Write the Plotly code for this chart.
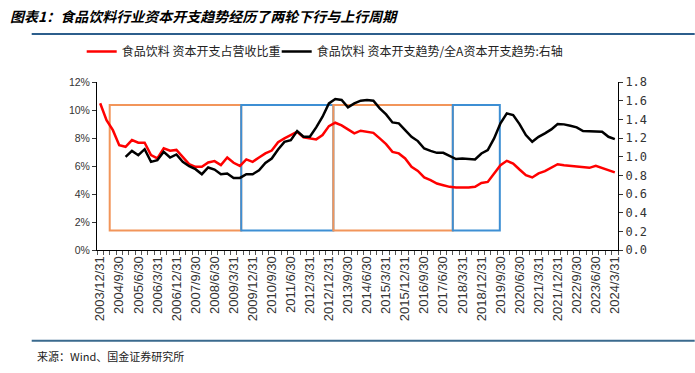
import plotly.graph_objects as go

# ---------------- data ----------------
quarters = []
y, m = 2003, 12
for _ in range(82):
    quarters.append((y, m))
    m += 3
    if m > 12:
        m -= 12
        y += 1
day = {3: 31, 6: 30, 9: 30, 12: 31}
date_labels = [f"{yy}/{mm}/{day[mm]}" for yy, mm in quarters]

capex_ratio = [
    10.48, 9.28, 8.56, 7.49, 7.37, 7.85, 7.66, 7.66, 6.78, 6.54,
    7.26, 7.09, 7.15, 6.61, 6.13, 5.94, 5.94, 6.25, 6.35, 6.06,
    6.61, 6.23, 6.01, 6.47, 6.30, 6.61, 6.90, 7.10, 7.70, 7.97,
    8.21, 8.45, 8.05, 7.95, 7.90, 8.21, 8.85, 9.09, 8.90, 8.62,
    8.33, 8.52, 8.45, 8.37, 7.97, 7.56, 7.01, 6.90, 6.54, 5.94,
    5.65, 5.18, 4.99, 4.75, 4.63, 4.51, 4.46, 4.46, 4.46, 4.52,
    4.79, 4.86, 5.47, 6.06, 6.37, 6.18, 5.75, 5.34, 5.18, 5.47,
    5.63, 5.90, 6.13, 6.06, 6.01, 5.99, 5.90, 5.87, 6.01, 5.87,
    5.70, 5.54,
]

capex_trend = [
    None, None, None, None, 0.998, 1.062, 1.016, 1.080, 0.944, 0.962,
    1.052, 0.991, 1.024, 0.944, 0.898, 0.866, 0.812, 0.884, 0.862, 0.812,
    0.820, 0.772, 0.772, 0.812, 0.812, 0.855, 0.933, 0.980, 1.077, 1.159,
    1.177, 1.274, 1.213, 1.213, 1.314, 1.428, 1.571, 1.618, 1.607, 1.528,
    1.571, 1.600, 1.607, 1.600, 1.518, 1.453, 1.367, 1.357, 1.285, 1.213,
    1.167, 1.088, 1.062, 1.041, 1.041, 1.005, 0.975, 0.980, 0.973, 0.970,
    1.034, 1.070, 1.195, 1.357, 1.464, 1.446, 1.349, 1.231, 1.159, 1.213,
    1.249, 1.292, 1.349, 1.346, 1.331, 1.314, 1.274, 1.274, 1.274, 1.267,
    1.213, 1.188,
]

# cycle boxes: (start index, end index, colour), y-span on the left axis (%)
cycle_bounds = [1.5, 22.2, 36.7, 55.5, 62.9]
cycle_colors = ["#F2955A", "#3D8FD4", "#F2955A", "#3D8FD4"]
box_y = [1.40, 10.36]

tick_idx = list(range(0, 82, 3))
tick_text = [date_labels[i] for i in tick_idx]
x_idx = list(range(len(date_labels)))

name_red = "食品饮料 资本开支占营收比重"
name_black = "食品饮料 资本开支趋势/全A资本开支趋势:右轴"
title_text = "图表1：食品饮料行业资本开支趋势经历了两轮下行与上行周期"
source_text = "来源：Wind、国金证券研究所"

# ---------------- figure ----------------
fig = go.Figure()
fig.add_trace(go.Scatter(x=x_idx, y=capex_ratio, name=name_red, mode="lines",
                         line=dict(color="#FF0000", width=2.5), yaxis="y",
                         legend="legend"))
fig.add_trace(go.Scatter(x=x_idx, y=capex_trend, name=name_black, mode="lines",
                         line=dict(color="#000000", width=2.5), yaxis="y2",
                         legend="legend2"))

shapes = []
for k in range(len(cycle_colors)):
    shapes.append(dict(type="rect", xref="x", yref="y",
                       x0=cycle_bounds[k], x1=cycle_bounds[k + 1],
                       y0=box_y[0], y1=box_y[1],
                       line=dict(color=cycle_colors[k], width=2),
                       fillcolor="rgba(0,0,0,0)", layer="below"))
# header / footer rules
L, R, T, B = 97.3, 618.3, 82.3, 249.6
W, H = R - L, B - T
def px(x):
    return (x - L) / W
def py(y):
    return (B - y) / H
rule_color = "#2C5E8C"
shapes.append(dict(type="line", xref="paper", yref="paper", x0=px(32), x1=px(695),
                   y0=py(34.5), y1=py(34.5), line=dict(color=rule_color, width=2)))
shapes.append(dict(type="line", xref="paper", yref="paper", x0=px(32), x1=px(695),
                   y0=py(340), y1=py(340), line=dict(color="#3A6A8E", width=2)))

annotations = [
    dict(xref="paper", yref="paper", x=px(8), y=py(17), xanchor="left", yanchor="middle",
         text="<b><i>" + title_text + "</i></b>", showarrow=False,
         font=dict(family="Noto Sans CJK SC", size=14, color="#000000")),
    dict(xref="paper", yref="paper", x=px(35), y=py(355), xanchor="left", yanchor="middle",
         text=source_text, showarrow=False,
         font=dict(family="Noto Sans CJK SC", size=11, color="#222222")),
]

legend_font = dict(family="Noto Sans CJK SC", size=12, color="#222222")
fig.update_layout(
    width=695, height=373,
    margin=dict(l=L, r=695 - R, t=T, b=373 - B, pad=0, autoexpand=False),
    paper_bgcolor="white", plot_bgcolor="white",
    shapes=shapes, annotations=annotations,
    showlegend=True,
    legend=dict(orientation="h", x=px(82), y=py(52), xanchor="left", yanchor="middle",
                font=legend_font, bgcolor="rgba(0,0,0,0)", itemwidth=30),
    legend2=dict(orientation="h", x=px(277), y=py(52), xanchor="left", yanchor="middle",
                 font=legend_font, bgcolor="rgba(0,0,0,0)", itemwidth=30),
    xaxis=dict(range=[-0.5, 81.5], tickmode="array", tickvals=tick_idx, ticktext=tick_text,
               tickangle=-90, ticks="", showgrid=False, zeroline=False, automargin=False,
               showline=True, linecolor="#000000", linewidth=1,
               tickfont=dict(family="Liberation Sans", size=13, color="#333333"),
               minor=dict(tickmode="linear", tick0=-0.5, dtick=1, ticks="outside",
                          ticklen=4, tickcolor="#555555", showgrid=False)),
    yaxis=dict(range=[0, 12], dtick=2, ticksuffix="%", ticks="outside", ticklen=4,
               tickcolor="#333333", showline=True, linecolor="#000000", linewidth=1,
               showgrid=False, zeroline=False, automargin=False,
               tickfont=dict(family="Liberation Sans", size=10.5, color="#333333")),
    yaxis2=dict(range=[0, 1.8], dtick=0.2, tickformat=".1f", overlaying="y", side="right",
                ticks="outside", ticklen=4, tickcolor="#333333", showline=True,
                linecolor="#000000", linewidth=1, showgrid=False, zeroline=False,
                automargin=False,
                tickfont=dict(family="DejaVu Sans Mono", size=12, color="#333333")),
)

fig.write_html("out.html", config={"displayModeBar": False},
               post_script="document.body.style.margin='0';document.body.style.padding='0';")
